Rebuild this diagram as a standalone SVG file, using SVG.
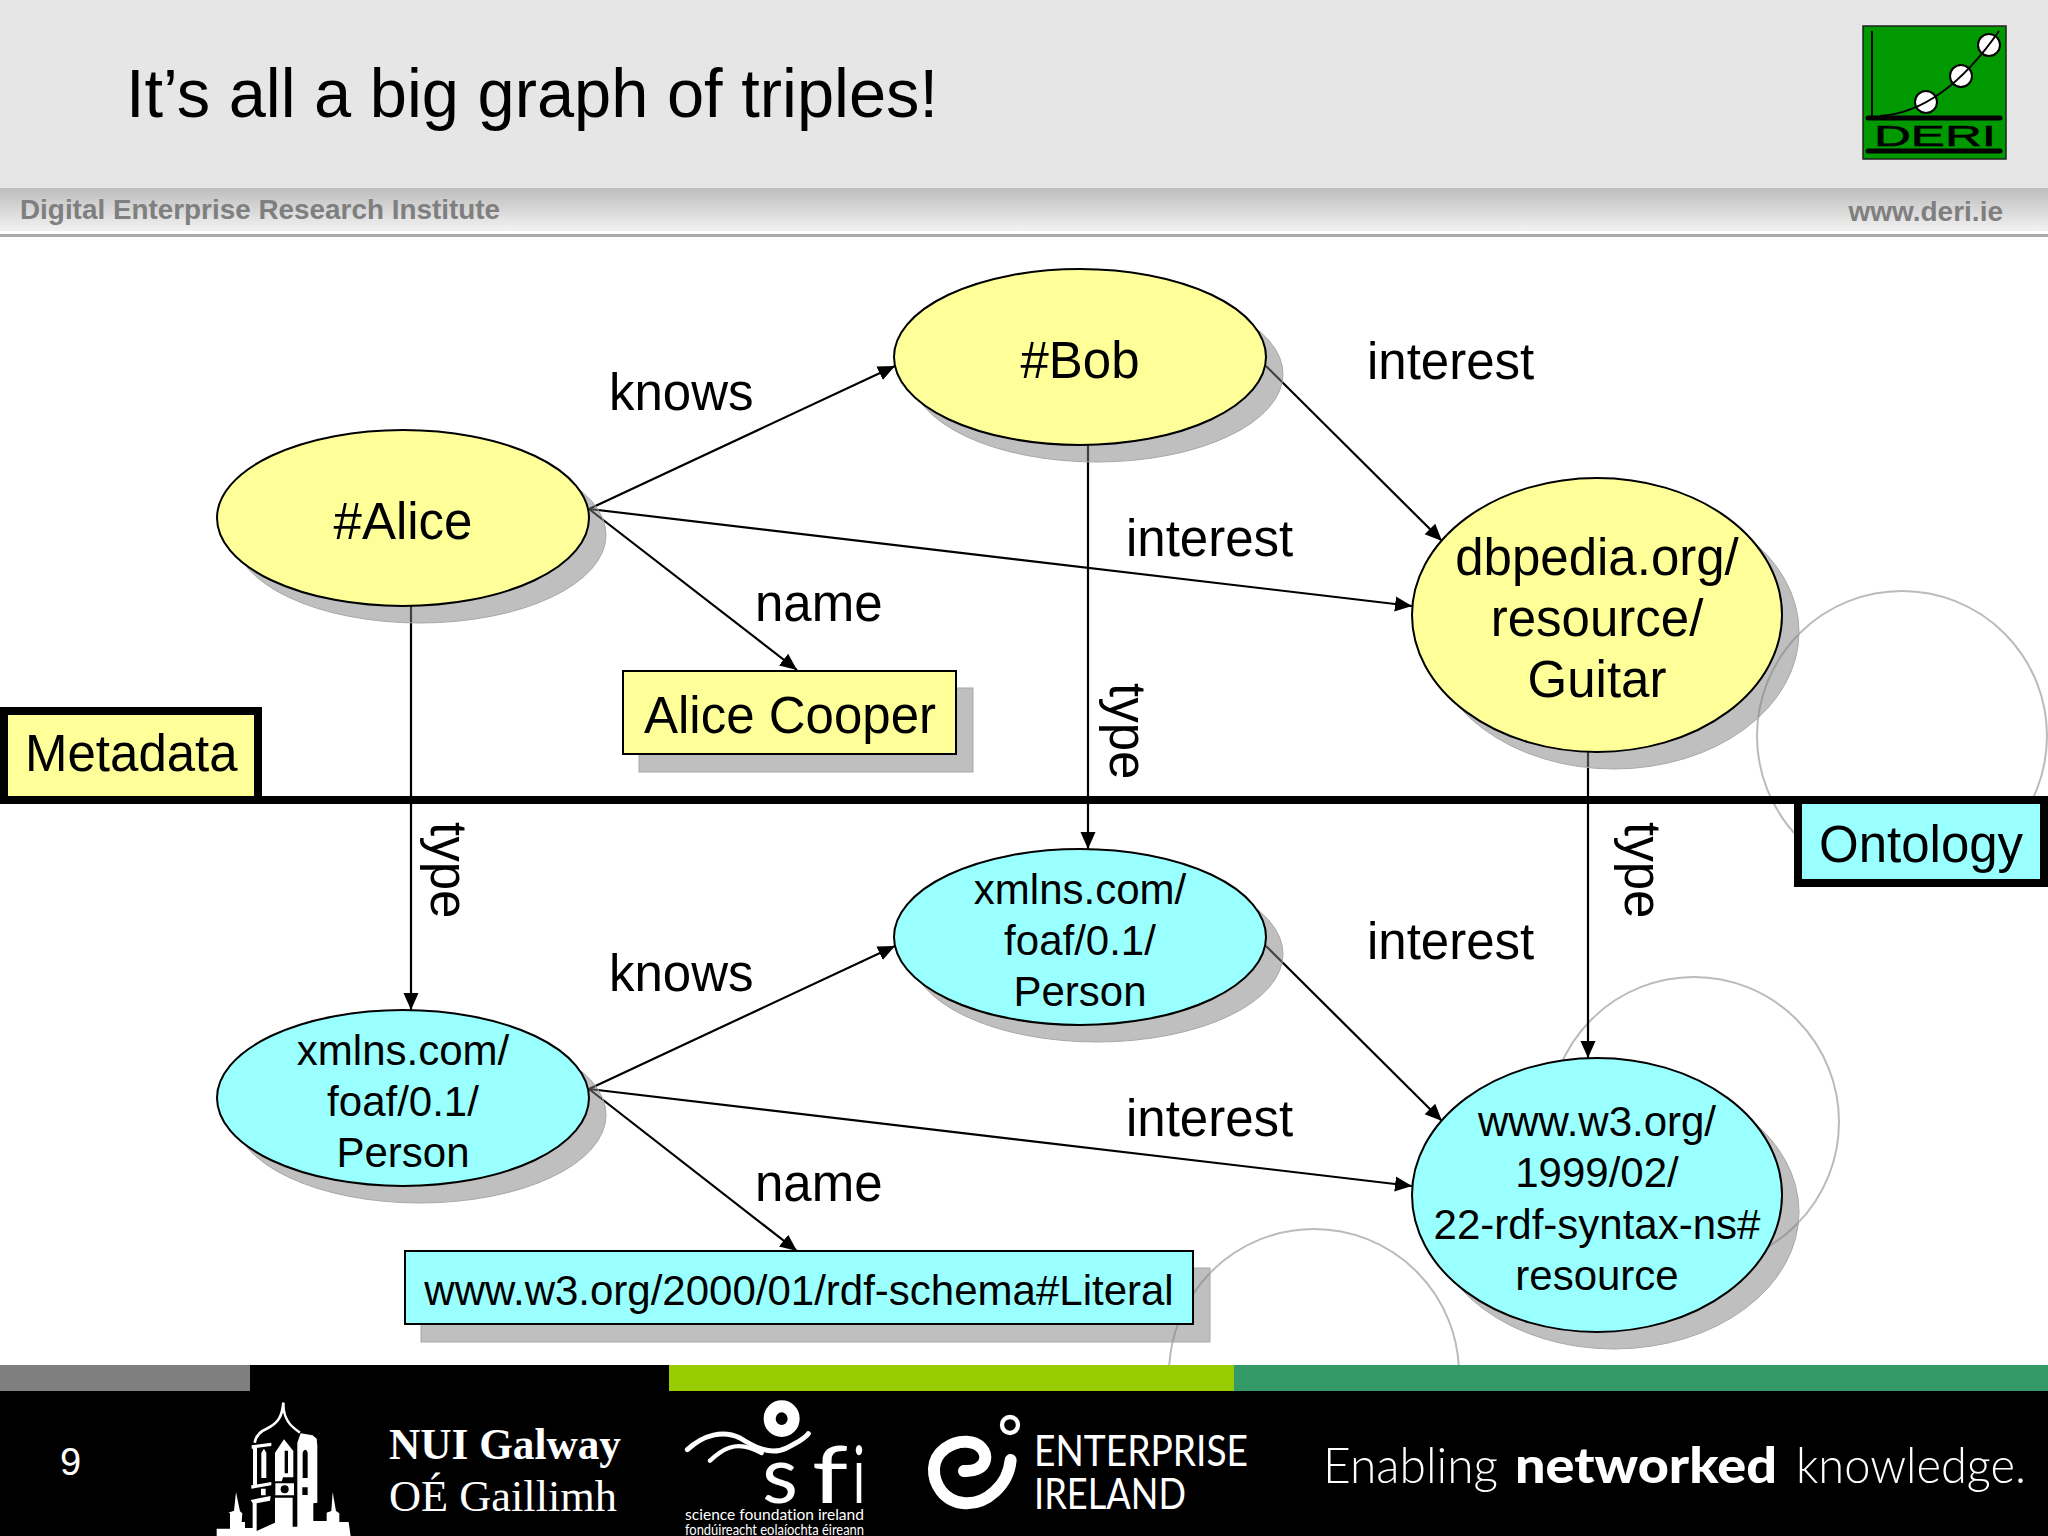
<svg xmlns="http://www.w3.org/2000/svg" width="2048" height="1536" viewBox="0 0 2048 1536">
<style>
text{font-family:"Liberation Sans",Arial,sans-serif;fill:#000}
.n{font-size:51px;text-anchor:middle}
.s{font-size:42px;text-anchor:middle}
.l{font-size:51px}
.y{fill:#ffff99;stroke:#000;stroke-width:2}
.c{fill:#99ffff;stroke:#000;stroke-width:2}
.sh{fill:#808080;fill-opacity:.5;stroke:#a8a8a8;stroke-width:1}
.e{stroke:#000;stroke-width:2.2;fill:none;marker-end:url(#a)}
.deco{fill:none;stroke:#bbb;stroke-width:2}
.w{fill:#fff}
.ws{fill:none;stroke:#fff}
.k{fill:#000}
.ft{font-family:Lato,sans-serif;fill:#fff;font-variant-ligatures:none}
</style>
<defs>
<marker id="a" markerUnits="userSpaceOnUse" markerWidth="18" markerHeight="16" refX="17" refY="8" orient="auto"><path d="M0 0.5L17 8L0 15.5z" fill="#000"/></marker>
<linearGradient id="band" x1="0" y1="0" x2="0" y2="1"><stop offset="0" stop-color="#bdbdbd"/><stop offset="1" stop-color="#f2f2f2"/></linearGradient>
<clipPath id="page"><rect width="2048" height="1365"/></clipPath>
</defs>
<rect width="2048" height="1536" fill="#fff"/>
<g id="decor" clip-path="url(#page)">
<circle class="deco" cx="1902" cy="736" r="145"/>
<circle class="deco" cx="1694" cy="1122" r="145"/>
<circle class="deco" cx="1314" cy="1374" r="145"/>
</g>
<g id="header">
<rect width="2048" height="188" fill="#e6e6e6"/>
<rect y="188" width="2048" height="43" fill="url(#band)"/>
<rect y="231" width="2048" height="2" fill="#fff"/>
<rect y="234" width="2048" height="3" fill="#aaa"/>
<text x="126" y="117" font-size="69" textLength="812" lengthAdjust="spacingAndGlyphs">It’s all a big graph of triples!</text>
<text x="20" y="219" font-size="28" font-weight="bold" textLength="480" lengthAdjust="spacingAndGlyphs" style="fill:#7f7f7f">Digital Enterprise Research Institute</text>
<text x="2003" y="221" font-size="28" font-weight="bold" text-anchor="end" style="fill:#7f7f7f">www.deri.ie</text>
</g>
<g id="deri-logo">
<rect x="1863" y="26" width="143" height="133" fill="#009900" stroke="#222" stroke-width="1.5"/>
<path d="M1872 31V117" stroke="#000" stroke-width="2" fill="none"/>
<path d="M1868 118H2000M1868 151H2000" stroke="#000" stroke-width="5" stroke-linecap="round" fill="none"/>
<circle cx="1926" cy="102" r="11" fill="#fff" stroke="#000" stroke-width="2"/>
<circle cx="1961" cy="76" r="11" fill="#fff" stroke="#000" stroke-width="2"/>
<circle cx="1989" cy="45" r="11" fill="#fff" stroke="#000" stroke-width="2"/>
<path d="M1880 116C1925 113 1965 80 1999 31" stroke="#000" stroke-width="2" fill="none"/>
<text x="1874" y="146" font-size="30" textLength="122" lengthAdjust="spacingAndGlyphs" stroke="#000" stroke-width=".6">DERI</text>
</g>
<g id="connectors">
<path class="e" d="M589 509L895 366"/>
<path class="e" d="M1266 366L1442 541"/>
<path class="e" d="M589 509L1412 606"/>
<path class="e" d="M589 509L797 670"/>
<path class="e" d="M411 606V1010"/>
<path class="e" d="M1088 445V849"/>
<path class="e" d="M1588 752V1058"/>
<path class="e" d="M589 1089L895 946"/>
<path class="e" d="M1266 946L1442 1121"/>
<path class="e" d="M589 1089L1412 1186"/>
<path class="e" d="M589 1089L797 1251"/>
</g>
<g id="divider"><rect y="796" width="2048" height="8" fill="#000"/></g>
<g id="alice"><ellipse class="sh" cx="420" cy="535" rx="186" ry="88"/><ellipse class="y" cx="403" cy="518" rx="186" ry="88"/><text class="n" x="403" y="539">#Alice</text></g>
<g id="bob"><ellipse class="sh" cx="1097" cy="374" rx="186" ry="88"/><ellipse class="y" cx="1080" cy="357" rx="186" ry="88"/><text class="n" x="1080" y="378">#Bob</text></g>
<g id="guitar"><ellipse class="sh" cx="1614" cy="632" rx="185" ry="137"/><ellipse class="y" cx="1597" cy="615" rx="185" ry="137"/><text class="n" x="1597" y="575">dbpedia.org/</text><text class="n" x="1597" y="636">resource/</text><text class="n" x="1597" y="697">Guitar</text></g>
<g id="alice-cooper"><rect class="sh" x="639" y="688" width="334" height="84"/><rect class="y" x="623" y="671" width="333" height="83"/><text class="n" x="790" y="733">Alice Cooper</text></g>
<g id="person-left"><ellipse class="sh" cx="420" cy="1115" rx="186" ry="88"/><ellipse class="c" cx="403" cy="1098" rx="186" ry="88"/><text class="s" x="403" y="1065">xmlns.com/</text><text class="s" x="403" y="1116">foaf/0.1/</text><text class="s" x="403" y="1167">Person</text></g>
<g id="person-mid"><ellipse class="sh" cx="1097" cy="954" rx="186" ry="88"/><ellipse class="c" cx="1080" cy="937" rx="186" ry="88"/><text class="s" x="1080" y="904">xmlns.com/</text><text class="s" x="1080" y="955">foaf/0.1/</text><text class="s" x="1080" y="1006">Person</text></g>
<g id="rdf-resource"><ellipse class="sh" cx="1614" cy="1212" rx="185" ry="137"/><ellipse class="c" cx="1597" cy="1195" rx="185" ry="137"/><text class="s" x="1597" y="1136">www.w3.org/</text><text class="s" x="1597" y="1187">1999/02/</text><text class="s" x="1597" y="1239">22-rdf-syntax-ns#</text><text class="s" x="1597" y="1290">resource</text></g>
<g id="literal"><rect class="sh" x="421" y="1268" width="789" height="74"/><rect class="c" x="405" y="1251" width="788" height="73"/><text class="s" x="799" y="1305">www.w3.org/2000/01/rdf-schema#Literal</text></g>
<g id="metadata"><rect x="4" y="711" width="254" height="89" fill="#ffff99" stroke="#000" stroke-width="8"/><text class="l" x="25" y="771">Metadata</text></g>
<g id="ontology"><rect x="1798" y="800" width="246" height="83" fill="#99ffff" stroke="#000" stroke-width="8"/><text class="l" x="1819" y="862">Ontology</text></g>
<g id="edge-labels">
<text class="l" x="609" y="410">knows</text>
<text class="l" x="1367" y="379">interest</text>
<text class="l" x="1126" y="556">interest</text>
<text class="l" x="755" y="621">name</text>
<text class="l" x="609" y="991">knows</text>
<text class="l" x="1367" y="959">interest</text>
<text class="l" x="1126" y="1136">interest</text>
<text class="l" x="755" y="1201">name</text>
<text class="l" transform="translate(431 822) rotate(90)">type</text>
<text class="l" transform="translate(1110 683) rotate(90)">type</text>
<text class="l" transform="translate(1625 822) rotate(90)">type</text>
</g>
<g id="footer">
<rect y="1365" width="2048" height="171" fill="#000"/>
<rect y="1365" width="250" height="26" fill="#807f80"/>
<rect x="669" y="1365" width="565" height="26" fill="#99cc00"/>
<rect x="1234" y="1365" width="814" height="26" fill="#339966"/>
<text x="60" y="1475" font-size="38" style="fill:#fff">9</text>
<g id="tower" transform="translate(210 1396) scale(.3333)">
<path class="w" d="M20 420V398H60V352L55 350L72 344L78 288L90 346L97 352L95 378L105 378V396H128V322L122 312L182 300L180 314L140 322V405L195 380V305H248V392H262V140L272 112L308 118L320 128L322 150V320L310 322V375H350V350L364 345L368 288L378 345L388 352V378H416L422 420z"/>
<path class="ws" stroke-width="8" d="M220 20C217 60 205 82 170 98C150 106 138 118 134 140"/>
<path class="w" d="M217 20L223 20L226 50H214z"/>
<path class="ws" stroke-width="7" d="M222 45C228 80 250 95 270 110"/>
<path class="k" d="M278 170C282 158 290 158 293 170V246H278zM277 274H293V297H277z"/>
<path class="w" d="M125 148L184 140V150L125 158zM129 155H141V266H129zM154 170L162 158L169 170V246H154zM124 268L184 258V268L124 278zM153 278H167V298H153z"/>
<path class="w" d="M195 170L222 130L250 165V244H215V232H234V164H224V232L215 256H195zM196 262H252V298H196z"/>
<circle cx="224" cy="280" r="12" class="k"/>
</g>
<text x="389" y="1459" font-size="44" font-weight="bold" textLength="232" lengthAdjust="spacingAndGlyphs" style="font-family:'Liberation Serif',serif;fill:#fff">NUI Galway</text>
<text x="389" y="1511" font-size="44" textLength="228" lengthAdjust="spacingAndGlyphs" style="font-family:'Liberation Serif',serif;fill:#fff">OÉ Gaillimh</text>
<g id="sfi" transform="translate(680 1398) scale(.3333)">
<ellipse class="ws" cx="305" cy="62" rx="36" ry="37" stroke-width="36"/>
<path class="ws" stroke-width="15" stroke-linecap="round" d="M22 155C70 110 130 95 180 120C220 145 270 175 320 150C350 135 375 122 385 107"/>
<path class="ws" stroke-width="13" stroke-linecap="round" d="M90 188C130 150 165 135 210 150C225 155 235 160 245 165"/>
</g>
<text y="1503" font-size="80" class="ft"><tspan x="762" textLength="36" lengthAdjust="spacingAndGlyphs">s</tspan><tspan x="812" textLength="36" lengthAdjust="spacingAndGlyphs">f</tspan><tspan x="853" textLength="12" lengthAdjust="spacingAndGlyphs">i</tspan></text>
<text x="685" y="1520" font-size="15" textLength="179" lengthAdjust="spacingAndGlyphs" class="ft">science foundation ireland</text>
<text x="685" y="1535" font-size="15" textLength="179" lengthAdjust="spacingAndGlyphs" class="ft">fondúireacht eolaíochta éireann</text>
<g id="spiral" transform="translate(920 1405) scale(.3333)">
<circle class="ws" cx="270" cy="60" r="24" stroke-width="13"/>
<path class="ws" stroke-width="36" stroke-linecap="round" d="M272 165C265 240 200 298 135 295C70 290 40 235 42 190C45 140 95 108 140 110C180 112 200 140 195 165C190 190 160 200 132 198"/>
</g>
<text x="1034" y="1466" font-size="42" textLength="214" lengthAdjust="spacingAndGlyphs" class="ft">ENTERPRISE</text>
<text x="1034" y="1509" font-size="42" textLength="152" lengthAdjust="spacingAndGlyphs" class="ft">IRELAND</text>
<text y="1483" font-size="50" class="ft" style="font-weight:300"><tspan x="1323" textLength="175" lengthAdjust="spacingAndGlyphs">Enabling</tspan> <tspan x="1515" textLength="262" lengthAdjust="spacingAndGlyphs" font-weight="900">networked</tspan> <tspan x="1796" textLength="230" lengthAdjust="spacingAndGlyphs">knowledge.</tspan></text>
</g>
</svg>
